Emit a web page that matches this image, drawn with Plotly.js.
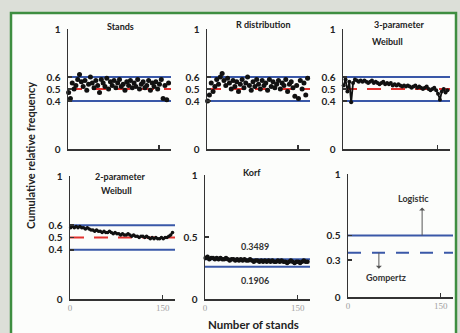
<!DOCTYPE html>
<html>
<head>
<meta charset="utf-8">
<script src="https://cdn.plot.ly/plotly-3.0.1.min.js"></script>
<style>html,body{margin:0;padding:0;background:#dcdfd8;}#chart{width:460px;height:333px;}</style>
</head>
<body>
<div id="chart"></div>
<script>
// ---- data ----
const stands = [1,4,7,10,13,16,19,22,25,28,31,34,37,40,43,46,49,52,55,58,61,64,67,70,73,76,79,82,85,88,91,94,97,100,103,106,109,112,115,118,121,124,127,130,133,136,139,142,145,148,151,154,157,160,163,166];

const standsVals = [0.47,0.42,0.55,0.50,0.53,0.58,0.62,0.56,0.52,0.57,
                    0.49,0.54,0.60,0.55,0.51,0.57,0.53,0.47,0.58,0.55,
                    0.52,0.59,0.50,0.56,0.53,0.57,0.51,0.55,0.58,0.52,
                    0.54,0.49,0.56,0.53,0.57,0.51,0.55,0.52,0.58,0.50,
                    0.54,0.56,0.51,0.53,0.57,0.49,0.55,0.52,0.56,0.50,
                    0.54,0.58,0.42,0.53,0.41,0.55];

const rDistVals = [0.40,0.45,0.55,0.48,0.52,0.58,0.54,0.60,0.63,0.57,
                   0.53,0.59,0.55,0.50,0.57,0.52,0.56,0.48,0.54,0.58,
                   0.51,0.55,0.60,0.53,0.49,0.56,0.52,0.58,0.54,0.50,
                   0.57,0.53,0.55,0.49,0.58,0.52,0.56,0.51,0.54,0.57,
                   0.50,0.55,0.53,0.58,0.48,0.54,0.56,0.51,0.44,0.53,
                   0.42,0.57,0.50,0.55,0.45,0.59];

const weibull3Vals = [0.53,0.58,0.48,0.56,0.39,0.55,0.58,0.57,0.56,0.57,
                      0.56,0.57,0.56,0.55,0.56,0.57,0.55,0.56,0.55,0.54,
                      0.55,0.56,0.54,0.55,0.54,0.55,0.53,0.54,0.53,0.54,
                      0.53,0.52,0.53,0.52,0.53,0.52,0.51,0.52,0.53,0.51,
                      0.52,0.51,0.50,0.51,0.52,0.50,0.49,0.50,0.51,0.49,
                      0.46,0.41,0.48,0.50,0.47,0.49];

const weibull2Vals = [0.58,0.59,0.58,0.59,0.58,0.59,0.58,0.58,0.57,0.58,
                      0.57,0.56,0.56,0.55,0.56,0.55,0.55,0.54,0.55,0.54,
                      0.54,0.55,0.54,0.53,0.54,0.53,0.53,0.52,0.53,0.52,
                      0.52,0.53,0.52,0.51,0.52,0.51,0.51,0.50,0.51,0.51,
                      0.50,0.51,0.50,0.49,0.50,0.49,0.50,0.49,0.49,0.50,
                      0.49,0.50,0.50,0.51,0.52,0.54];

const korfVals = [0.33,0.34,0.32,0.33,0.33,0.32,0.33,0.32,0.33,0.32,
                  0.32,0.33,0.32,0.31,0.32,0.32,0.31,0.32,0.31,0.32,
                  0.31,0.32,0.31,0.31,0.32,0.31,0.30,0.31,0.31,0.30,
                  0.31,0.30,0.31,0.30,0.31,0.30,0.31,0.30,0.30,0.31,
                  0.30,0.31,0.30,0.30,0.29,0.30,0.31,0.30,0.29,0.30,
                  0.30,0.29,0.30,0.31,0.30,0.30];

// reference levels
const refX = [0, 170];
const upperLimit = 0.6, meanLevel = 0.5, lowerLimit = 0.4;
const korfUpper = 0.32, korfLower = 0.26;
const logisticLevel = 0.5, gompertzLevel = 0.36;

const panelTitles = ["Stands", "R distribution", "3-parameter", "Weibull", "2-parameter", "Weibull", "Korf"];
const korfLabels = ["0.3489", "0.1906"];
const modelLabels = ["Logistic", "Gompertz"];
const xTickVals = [0, 150, 170];
const xTickText = ["0", "150", ""];
const yTicksMain = [0, 0.4, 0.5, 0.6, 1];
const yTicksKorf = [0, 0.5, 1];
const yTicksModels = [0, 0.3, 0.5, 1];

// ---- styles ----
const BLUE = '#3a58a8', RED = '#e3322f', BLACK = '#111';
const FONT = 'Lato, "Open Sans", sans-serif';

function hline(ax, y, color, dash) {
  return {x: refX, y: [y, y], xaxis: 'x' + ax, yaxis: 'y' + ax, mode: 'lines',
          line: {color: color, width: 2, dash: dash || 'solid'}, hoverinfo: 'skip', showlegend: false};
}
function series(ax, vals, mode, lw, ms) {
  return {x: stands, y: vals, xaxis: 'x' + ax, yaxis: 'y' + ax, mode: mode,
          line: {color: BLACK, width: lw}, marker: {color: BLACK, size: ms},
          showlegend: false, cliponaxis: false};
}
const redDash = '14px,10px';

const traces = [];
// panels 1-4
[[1, standsVals, 'markers', 1, 5], [2, rDistVals, 'markers', 1, 5],
 [3, weibull3Vals, 'lines+markers', 1.8, 4], [4, weibull2Vals, 'lines+markers', 2, 3.5]].forEach(p => {
  traces.push(hline(p[0], upperLimit, BLUE));
  traces.push(hline(p[0], lowerLimit, BLUE));
  traces.push(hline(p[0], meanLevel, RED, redDash));
  traces.push(series(p[0], p[1], p[2], p[3], p[4]));
});
// Korf
traces.push(hline(5, korfUpper, BLUE));
traces.push(hline(5, korfLower, BLUE));
traces.push(series(5, korfVals, 'lines+markers', 3, 4.5));
// models
traces.push(hline(6, logisticLevel, BLUE));
traces.push(hline(6, gompertzLevel, BLUE, '13px,11px'));

// ---- layout ----
function px(x) { return x / 460; }
function py(y) { return 1 - y / 333; }

function xa(dom, anchor, labels) {
  return {domain: dom, anchor: anchor, range: [0, 170], showgrid: false, zeroline: false,
          showline: true, linecolor: '#333', linewidth: 1.5,
          ticks: 'inside', ticklen: 4, tickcolor: '#333', tickwidth: 1.5,
          tickvals: xTickVals, ticktext: labels ? xTickText : ['', '', ''],
          tickfont: {family: '"Liberation Serif", serif', size: 9, color: '#a0a0a0'}, fixedrange: true};
}
function ya(dom, anchor, tv) {
  return {domain: dom, anchor: anchor, range: [0, 1], showgrid: false, zeroline: false,
          showline: true, linecolor: '#333', linewidth: 1.5,
          ticks: 'inside', ticklen: 4, tickcolor: '#333', tickwidth: 1.5,
          tickvals: tv, ticktext: tv.map(String), ticklabelstandoff: 4,
          tickfont: {family: FONT, size: 10, color: '#222', weight: 'bold'}, fixedrange: true};
}

const topY = [py(149), py(29)];
const layout = {
  width: 460, height: 333,
  margin: {l: 0, r: 0, t: 0, b: 0},
  paper_bgcolor: '#dcdfd8', plot_bgcolor: 'rgba(0,0,0,0)',
  showlegend: false,
  xaxis:  xa([px(68), px(171)], 'y', false),
  yaxis:  ya(topY, 'x', yTicksMain),
  xaxis2: xa([px(207), px(310)], 'y2', false),
  yaxis2: ya(topY, 'x2', yTicksMain),
  xaxis3: xa([px(343), px(450)], 'y3', false),
  yaxis3: ya(topY, 'x3', yTicksMain),
  xaxis4: xa([px(70), px(175)], 'y4', true),
  yaxis4: ya([py(299), py(176)], 'x4', yTicksMain),
  xaxis5: xa([px(205), px(310)], 'y5', true),
  yaxis5: ya([py(299), py(175)], 'x5', yTicksKorf),
  xaxis6: xa([px(348), px(453)], 'y6', true),
  yaxis6: ya([py(297), py(174)], 'x6', yTicksModels),
  shapes: [
    {type: 'rect', xref: 'paper', yref: 'paper', x0: px(11), x1: px(456), y0: -0.05, y1: py(13),
     fillcolor: '#fcfdfb', line: {color: '#3e8e41', width: 2.5}, layer: 'below'}
  ],
  annotations: []
};

function txt(t, x, y, size, color) {
  return {text: '<b>' + t + '</b>', xref: 'paper', yref: 'paper', x: px(x), y: py(y),
          xanchor: 'center', yanchor: 'middle', showarrow: false,
          font: {family: FONT, size: size, color: color || '#222'}};
}
const A = layout.annotations;
A.push(txt(panelTitles[0], 121, 26, 9));
A.push(txt(panelTitles[1], 263, 25, 9));
A.push(txt(panelTitles[2], 399, 25, 9));
A.push(txt(panelTitles[3], 387, 41, 9));
A.push(txt(panelTitles[4], 121, 176, 9));
A.push(txt(panelTitles[5], 117, 191, 9));
A.push(txt(panelTitles[6], 252, 173, 9));
A.push(txt(korfLabels[0], 255, 246, 9, '#333'));
A.push(txt(korfLabels[1], 255, 280, 9, '#333'));
A.push(txt(modelLabels[0], 413, 198, 9, '#333'));
A.push(txt(modelLabels[1], 386, 277, 9, '#333'));
// axis titles
A.push(Object.assign(txt('Cumulative relative frequency', 30, 156, 11), {textangle: -90}));
A.push(txt('Number of stands', 253, 324, 11.5));
// arrows
A.push({text: ' ', xref: 'x6', yref: 'y6', x: 120, y: logisticLevel, ax: 0, ay: -31,
        showarrow: true, arrowside: 'start', arrowhead: 2, arrowsize: 1, arrowwidth: 1, arrowcolor: '#555',
        font: {size: 2}});
A.push({text: ' ', xref: 'x6', yref: 'y6', x: 50, y: gompertzLevel, ax: 0, ay: 19,
        showarrow: true, arrowside: 'start', arrowhead: 2, arrowsize: 1, arrowwidth: 1, arrowcolor: '#555',
        font: {size: 2}});

Plotly.newPlot('chart', traces, layout, {displayModeBar: false, staticPlot: true});
</script>
</body>
</html>
